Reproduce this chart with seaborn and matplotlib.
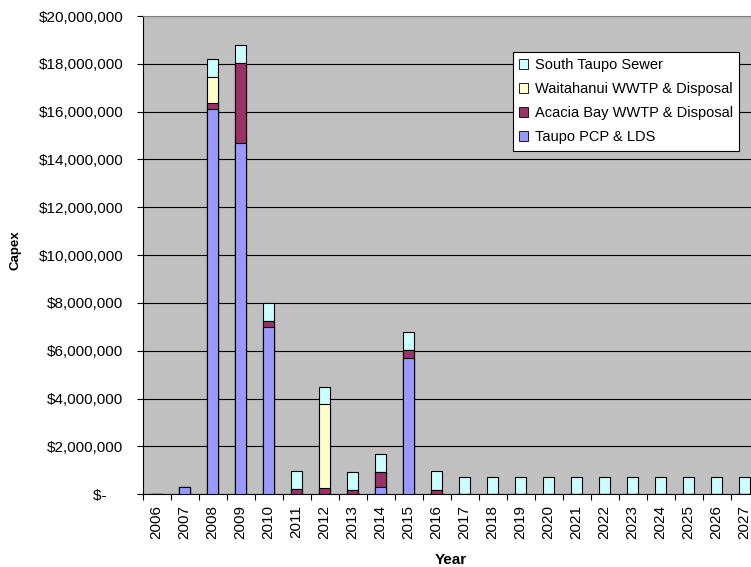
import numpy as np
import pandas as pd
import matplotlib
matplotlib.use("Agg")
import matplotlib.pyplot as plt
from matplotlib.patches import Patch
from matplotlib.ticker import FuncFormatter, FixedLocator
import seaborn as sns

# Capital expenditure by year and scheme (NZD)
years = [str(y) for y in range(2006, 2028)]
taupo_pcp_lds = [0, 290_000, 16_100_000, 14_700_000, 6_980_000, 0, 0, 0,
                 320_000, 5_710_000, 0, 0, 0, 0, 0, 0, 0, 0, 0, 0, 0, 0]
acacia_bay = [0, 0, 250_000, 3_320_000, 280_000, 220_000, 250_000, 190_000,
              610_000, 310_000, 190_000, 0, 0, 0, 0, 0, 0, 0, 0, 0, 0, 0]
waitahanui = [0, 0, 1_080_000, 0, 0, 0, 3_510_000, 0,
              0, 0, 0, 0, 0, 0, 0, 0, 0, 0, 0, 0, 0, 0]
south_taupo = [0, 0, 760_000, 750_000, 750_000, 750_000, 740_000, 750_000,
               770_000, 750_000, 780_000, 720_000, 720_000, 720_000, 720_000,
               720_000, 720_000, 720_000, 720_000, 720_000, 720_000, 720_000]

series_names = ["Taupo PCP & LDS", "Acacia Bay WWTP & Disposal",
                "Waitahanui WWTP & Disposal", "South Taupo Sewer"]
series_colors = ["#9999FF", "#993366", "#FFFFCC", "#CCFFFF"]

df = pd.DataFrame({
    "Year": years,
    series_names[0]: taupo_pcp_lds,
    series_names[1]: acacia_bay,
    series_names[2]: waitahanui,
    series_names[3]: south_taupo,
})
cum = df[series_names].cumsum(axis=1)

plt.rcParams["font.family"] = ["Liberation Sans", "DejaVu Sans"]
fs = 11

fig = plt.figure(figsize=(7.51, 5.67), dpi=100)
W, H = 751, 567
left_px, top_px, zero_px = 142.7, 16.0, 494.3
ax = fig.add_axes([left_px / W, (H - zero_px) / H, 616 / W, (zero_px - top_px) / H])
ax.set_facecolor("#C0C0C0")
ax.set_axisbelow(True)

# stacked bars: draw cumulative totals from the top segment down
for name, color in reversed(list(zip(series_names, series_colors))):
    sns.barplot(x=df["Year"], y=cum[name], order=years, color=color,
                saturation=1, width=0.41, edgecolor="black", linewidth=0.8,
                errorbar=None, ax=ax, zorder=3)

ax.set_xlim(-0.5, len(years) - 0.5)
ax.set_ylim(0, 20_000_000)
ax.set_yticks(np.arange(0, 20_000_001, 2_000_000))
ax.yaxis.set_major_formatter(FuncFormatter(
    lambda v, p: "$-    " if v == 0 else f"${v:,.0f}"))
ax.grid(axis="y", color="black", linewidth=0.8, zorder=0)
ax.grid(axis="x", visible=False)

# year labels at category centres, tick marks at category boundaries
ax.tick_params(axis="x", which="major", length=0, pad=8, labelsize=fs,
               labelrotation=90)
ax.xaxis.set_minor_locator(FixedLocator(np.arange(-0.5, len(years), 1.0)))
ax.tick_params(axis="x", which="minor", length=4, width=0.8, color="black")
ax.tick_params(axis="y", length=4, width=0.8, pad=10, labelsize=fs,
               color="black")

for s in ["left", "bottom"]:
    ax.spines[s].set_color("black")
    ax.spines[s].set_linewidth(0.8)
for s in ["top", "right"]:
    ax.spines[s].set_color("#808080")
    ax.spines[s].set_linewidth(0.8)

ax.set_xlabel("Year", fontsize=11, fontweight="bold")
ax.set_ylabel("Capex", fontsize=9.5, fontweight="bold")
ax.xaxis.set_label_coords(0.5, -0.122)
ax.yaxis.set_label_coords(-0.197, 0.51)

handles = [Patch(facecolor=c, edgecolor="black", linewidth=0.6, label=n)
           for n, c in zip(series_names, series_colors)][::-1]
leg = ax.legend(handles=handles, loc="upper left",
                bbox_to_anchor=(512.7 / W, 1 - 51.7 / H),
                bbox_transform=fig.transFigure, borderaxespad=0,
                fontsize=10.5, frameon=True, fancybox=False, framealpha=1,
                edgecolor="black", facecolor="white",
                handlelength=0.6, handleheight=0.6, handletextpad=0.45,
                labelspacing=0.68, borderpad=0.45)
leg.get_frame().set_linewidth(0.8)

fig.savefig("out.png", dpi=100)
